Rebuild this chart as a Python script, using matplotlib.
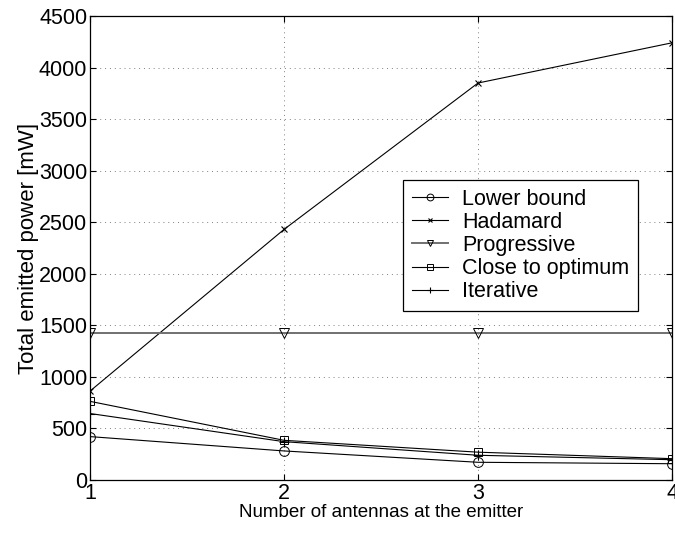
import matplotlib
matplotlib.use('Agg')
import matplotlib.pyplot as plt

plt.rcParams['font.family'] = ['Liberation Sans', 'DejaVu Sans']

antennas = [1, 2, 3, 4]
lower_bound = [421, 282, 172, 158]
hadamard = [862, 2430, 3850, 4240]
progressive = [1430, 1430, 1430, 1430]
close_opt = [763, 385, 270, 207]
iterative = [645, 372, 240, 197]

fig = plt.figure(figsize=(6.75, 5.33), dpi=100)
ax = fig.add_axes([0.1333, 0.0994, 0.8623, 0.8706])

ax.plot(antennas, lower_bound, color='black', lw=0.8, marker='o', ms=7,
        mfc='none', mec='black', mew=0.7, label='Lower bound')
ax.plot(antennas, hadamard, color='black', lw=0.8, marker='x', ms=5,
        mew=0.8, label='Hadamard')
ax.plot(antennas, progressive, color='#707070', lw=1.4, marker='v', ms=7,
        mfc='none', mec='black', mew=0.7, label='Progressive')
ax.plot(antennas, close_opt, color='black', lw=0.8, marker='s', ms=6,
        mfc='none', mec='black', mew=0.7, label='Close to optimum')
ax.plot(antennas, iterative, color='black', lw=0.8, marker='+', ms=7,
        mew=0.8, label='Iterative')

ax.set_xlim(1, 4)
ax.set_ylim(0, 4500)
ax.set_xticks(antennas)
ax.set_yticks(range(0, 4501, 500))
ax.tick_params(direction='in', top=True, right=True, labelsize=15.5, length=4, pad=2)
ax.grid(True, linestyle=(0, (1, 4)), color='#808080', linewidth=0.7)
for s in ax.spines.values():
    s.set_linewidth(0.9)

ax.set_xlabel('Number of antennas at the emitter', fontsize=13.5, labelpad=0)
ax.set_ylabel('Total emitted power [mW]', fontsize=16, labelpad=0)

leg = ax.legend(loc='upper left', bbox_to_anchor=(0.538, 0.6466), borderaxespad=0,
                fontsize=15.5, frameon=True, fancybox=False, handlelength=1.7,
                labelspacing=0.1, borderpad=0.4, handletextpad=0.65, markerscale=0.7)
leg.get_frame().set_edgecolor('black')
leg.get_frame().set_linewidth(0.9)
leg.get_frame().set_alpha(1)

fig.savefig('out.png', dpi=100)
